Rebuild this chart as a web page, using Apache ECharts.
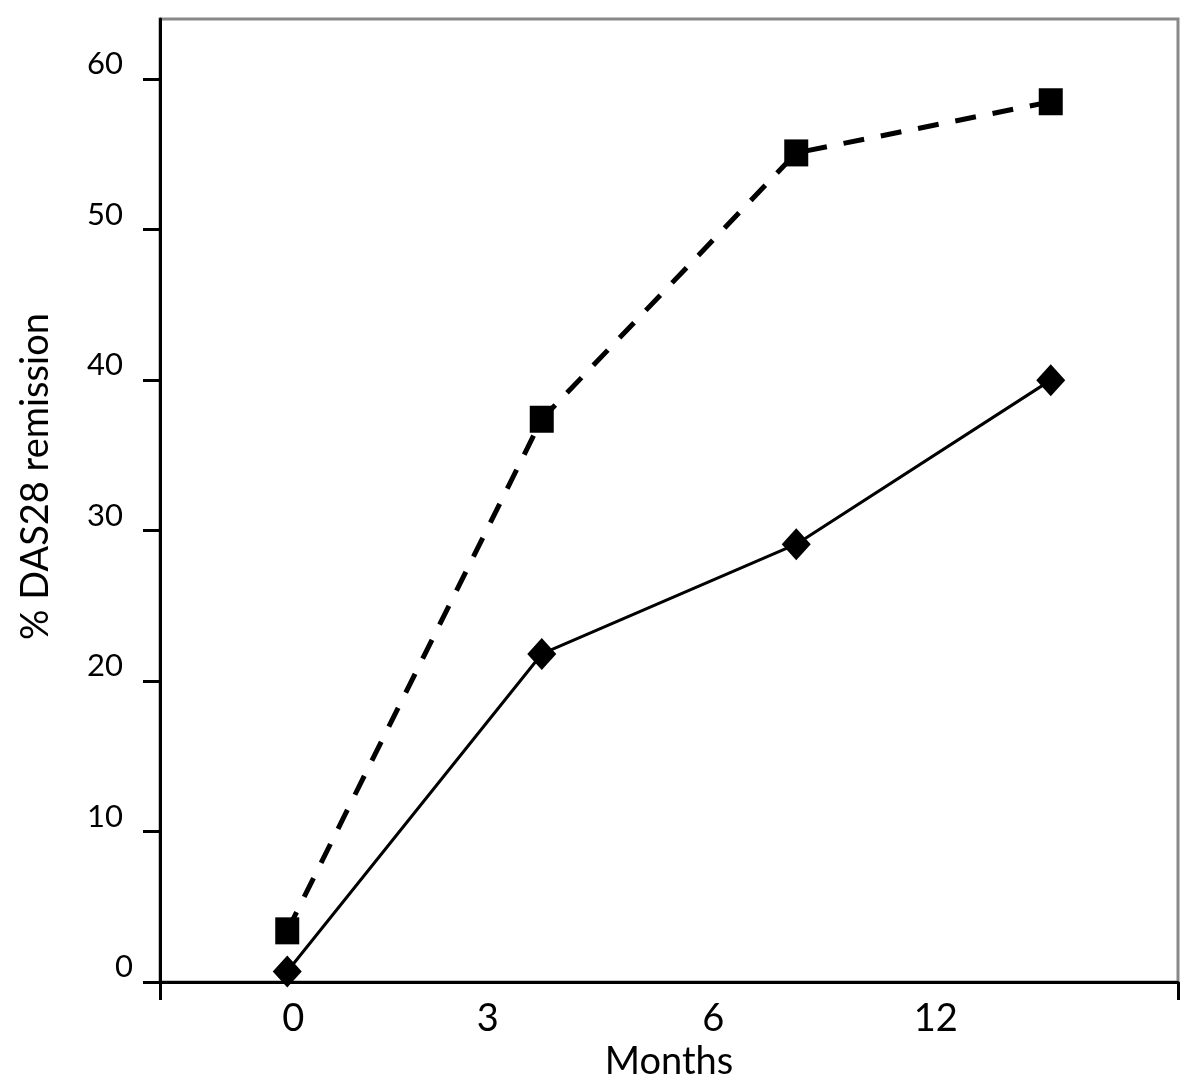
<!DOCTYPE html>
<html>
<head>
<meta charset="utf-8">
<script src="https://cdn.jsdelivr.net/npm/echarts@6/dist/echarts.min.js"></script>
<style>
html,body{margin:0;padding:0;background:#fff;}
#chart{width:1200px;height:1089px;}
</style>
</head>
<body>
<div id="chart"></div>
<script>
// ---- data ----
const months = ['0', '3', '6', '12'];
const seriesDashed = [3.4, 37.4, 55.1, 58.5];   // squares, dashed line
const seriesSolid = [0.7, 21.8, 29.1, 40.0];    // diamonds, solid line
const yTicks = [0, 10, 20, 30, 40, 50, 60];

// ---- styling (label horizontal shifts, px) ----
const labelShift = [6, -54, -83, -115];

const FONT = 'Lato, "Open Sans", "Noto Sans", sans-serif';
const rich = {};
labelShift.forEach((d, i) => {
  rich['l' + i] = {
    fontFamily: FONT, fontSize: 38, color: '#000',
    padding: d >= 0 ? [0, 0, 0, 2 * d] : [0, -2 * d, 0, 0]
  };
});

const chart = echarts.init(document.getElementById('chart'), null, {renderer: 'canvas'});
chart.setOption({
  animation: false,
  backgroundColor: '#fff',
  grid: {
    left: 160, right: 22, top: 19, bottom: 107,
    show: true, borderColor: '#888', borderWidth: 3, backgroundColor: 'transparent',
    outerBoundsMode: 'none'
  },
  xAxis: {
    type: 'category',
    data: months,
    boundaryGap: true,
    name: 'Months',
    nameLocation: 'middle',
    nameGap: 58,
    nameTextStyle: {fontFamily: FONT, fontSize: 38, color: '#000'},
    axisLine: {show: true, lineStyle: {color: '#000', width: 3}},
    axisTick: {show: true, length: 18, lineStyle: {color: '#000', width: 3},
      interval: function (idx) { return idx === 0; }},
    axisLabel: {
      margin: 18,
      interval: 0,
      formatter: function (v, idx) { return '{l' + idx + '|' + v + '}'; },
      rich: rich
    },
    splitLine: {show: false}
  },
  yAxis: {
    type: 'value',
    min: 0, max: 64, interval: 10,
    name: '% DAS28 remission',
    nameLocation: 'middle',
    nameGap: 105,
    nameRotate: 90,
    nameTextStyle: {fontFamily: FONT, fontSize: 38, color: '#000', padding: [0, 0, 0, 48]},
    axisLine: {show: true, lineStyle: {color: '#000', width: 3}},
    axisTick: {show: true, length: 17, lineStyle: {color: '#000', width: 3},
      customValues: yTicks},
    axisLabel: {
      margin: 27,
      fontFamily: FONT, fontSize: 31, color: '#000',
      verticalAlign: 'bottom',
      lineHeight: 30,
      customValues: yTicks,
      formatter: function (v) { return v === 0 ? '{z|0}' : '{n|' + v + '}'; },
      rich: {
        z: {fontFamily: FONT, fontSize: 31, color: '#000', lineHeight: 30},
        n: {fontFamily: FONT, fontSize: 31, color: '#000', lineHeight: 30, padding: [0, 10, 0, 0]}
      }
    },
    splitLine: {show: false}
  },
  series: [
    {
      type: 'line',
      data: seriesDashed,
      symbol: 'rect',
      symbolSize: [24, 27],
      itemStyle: {color: '#000'},
      lineStyle: {color: '#000', width: 5, type: [21, 17]},
      z: 3
    },
    {
      type: 'line',
      data: seriesSolid,
      symbol: 'diamond',
      symbolSize: [29, 32],
      itemStyle: {color: '#000'},
      lineStyle: {color: '#000', width: 3, type: 'solid'},
      z: 4
    }
  ]
});
</script>
</body>
</html>
